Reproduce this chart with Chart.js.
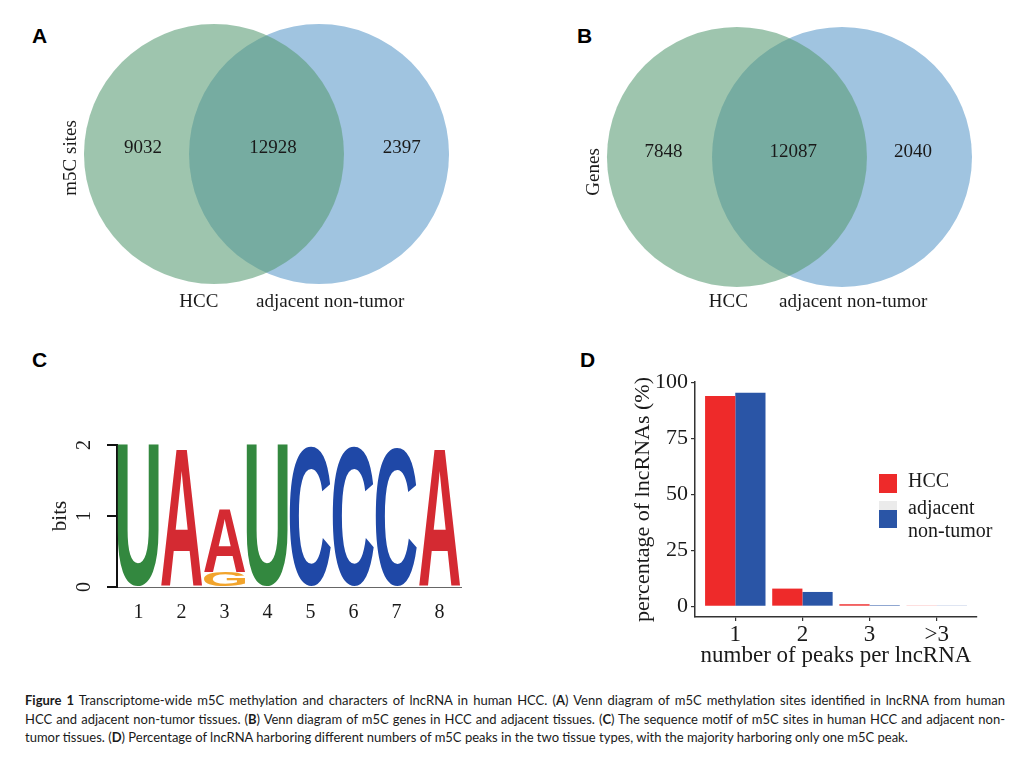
<!DOCTYPE html>
<html>
<head>
<meta charset="utf-8">
<title>Figure 1</title>
<script src="https://cdn.jsdelivr.net/npm/chart.js@4.4.1/dist/chart.umd.min.js"></script>
<style>
    body { margin: 0; background: #fff; width: 1031px; height: 769px; position: relative; overflow: hidden; }
    .panel { position: absolute; }
    .tag { position: absolute; font: bold 21px "Liberation Sans", Arial, sans-serif; line-height: 21px; color: #000; }
    #caption { position: absolute; left: 25px; top: 691px; width: 980px; font-family: Lato, sans-serif; font-size: 13px; line-height: 18.5px; color: #1a1a1a; }
    #caption .just { text-align: justify; text-align-last: justify; }
</style>
</head>
<body>

<div class="tag" style="left:32px;top:25px">A</div>
<div class="tag" style="left:577px;top:25px">B</div>
<div class="tag" style="left:32px;top:349px">C</div>
<div class="tag" style="left:580px;top:349px">D</div>

<div class="panel" style="left:0;top:0;width:520px;height:330px"><canvas id="vennSites"></canvas></div>
<div class="panel" style="left:520px;top:0;width:511px;height:330px"><canvas id="vennGenes"></canvas></div>
<div class="panel" style="left:0;top:330px;width:520px;height:340px"><canvas id="motifLogo"></canvas></div>
<div class="panel" style="left:580px;top:330px;width:451px;height:340px"><canvas id="peaksChart"></canvas></div>

<div id="caption">
    <div class="just"><b>Figure 1</b> Transcriptome-wide m5C methylation and characters of lncRNA in human HCC. (<b>A</b>) Venn diagram of m5C methylation sites identified in lncRNA from human</div>
    <div class="just">HCC and adjacent non-tumor tissues. (<b>B</b>) Venn diagram of m5C genes in HCC and adjacent tissues. (<b>C</b>) The sequence motif of m5C sites in human HCC and adjacent non-</div>
    <div>tumor tissues. (<b>D</b>) Percentage of lncRNA harboring different numbers of m5C peaks in the two tissue types, with the majority harboring only one m5C peak.</div>
</div>

<script>
// ---- data ----
const setNames = ["HCC", "adjacent non-tumor"];
const siteCounts = [9032, 12928, 2397];   // HCC only, both, adjacent only
const geneCounts = [7848, 12087, 2040];

const logoPositions = ["1", "2", "3", "4", "5", "6", "7", "8"];
const bitsG = [0, 0, 0.21, 0, 0, 0, 0, 0];
const bitsU = [2.0, 0, 0, 2.0, 0, 0, 0, 0];
const bitsC = [0, 0, 0, 0, 1.98, 1.98, 1.97, 0];
const bitsA = [0, 1.95, 0.90, 0, 0, 0, 0, 1.95];
const bitsTicks = [0, 1, 2];

const peakBins = ["1", "2", "3", ">3"];
const hccPct = [94.0, 7.9, 0.9, 0.2];
const adjacentPct = [95.5, 6.4, 0.5, 0.2];
const pctTicks = [0, 25, 50, 75, 100];

const SERIF = '"Liberation Serif", "Times New Roman", serif';
const TEXT = "#1a1a1a";

Chart.defaults.animation = false;
Chart.defaults.responsive = true;
Chart.defaults.maintainAspectRatio = false;
Chart.defaults.events = [];
Chart.defaults.plugins.legend.display = false;
Chart.defaults.plugins.tooltip.enabled = false;

// ---- Venn diagrams (A, B) ----
// one unit = circle radius, both circles the same size
function radiusPx(ctx) {
    const s = ctx.chart.scales.x;
    if (!s) return 0;
    const r = Math.abs(s.getPixelForValue(1) - s.getPixelForValue(0));
    return isFinite(r) ? r : 0;
}

function createVennChart(canvasId, counts, yLabel, layout) {
    const vennText = {
        id: "vennText",
        afterDatasetsDraw(chart) {
            const { ctx, scales: { x, y } } = chart;
            ctx.save();
            ctx.fillStyle = TEXT;
            ctx.textAlign = "center";
            ctx.textBaseline = "middle";
            ctx.font = "19px " + SERIF;
            counts.forEach((c, i) => {
                ctx.fillText(String(c), x.getPixelForValue(layout.countX[i]), y.getPixelForValue(layout.countY));
            });
            setNames.forEach((name, i) => {
                ctx.fillText(name, x.getPixelForValue(layout.nameX[i]), y.getPixelForValue(layout.nameY));
            });
            ctx.translate(x.getPixelForValue(layout.labelX), y.getPixelForValue(layout.labelY));
            ctx.rotate(-Math.PI / 2);
            ctx.fillText(yLabel, 0, 0);
            ctx.restore();
        }
    };

    new Chart(document.getElementById(canvasId), {
        type: "scatter",
        data: {
            datasets: [
                // dataset 0 is drawn last -> sits on top, semi transparent
                {
                    label: setNames[0], data: [{ x: -layout.half, y: 0 }],
                    pointRadius: radiusPx, pointHoverRadius: radiusPx,
                    pointBackgroundColor: "rgba(88,155,115,0.58)", pointBorderWidth: 0
                },
                {
                    label: setNames[1], data: [{ x: layout.half, y: 0 }],
                    pointRadius: radiusPx, pointHoverRadius: radiusPx,
                    pointBackgroundColor: "#a0c4e0", pointBorderWidth: 0
                }
            ]
        },
        options: {
            scales: {
                x: { type: "linear", display: false, min: layout.xMin, max: layout.xMax },
                y: { type: "linear", display: false, min: layout.yMin, max: layout.yMax }
            }
        },
        plugins: [vennText]
    });
}

createVennChart("vennSites", siteCounts, "m5C sites", {
    half: 0.404, xMin: -2.05, xMax: 1.95, yMin: -1.354, yMax: 1.185,
    countX: [-0.95, 0.05, 1.04], countY: 0.046,
    nameX: [-0.52, 0.49], nameY: -1.14,
    labelX: -1.5, labelY: -0.03
});

createVennChart("vennGenes", geneCounts, "Genes", {
    half: 0.404, xMin: -2.073, xMax: 1.858, yMin: -1.331, yMax: 1.208,
    countX: [-0.97, 0.03, 0.95], countY: 0.04,
    nameX: [-0.47, 0.49], nameY: -1.115,
    labelX: -1.5, labelY: -0.115
});

// ---- sequence logo (C) ----
const letterColors = { A: "#d42a32", C: "#1f48a7", G: "#f2a42c", U: "#33883f" };

// stretch each letter glyph into its stacked bar box
const logoLetters = {
    id: "logoLetters",
    afterDatasetsDraw(chart) {
        const ctx = chart.ctx;
        ctx.save();
        ctx.font = 'bold 100px "Liberation Sans", Arial, sans-serif';
        ctx.textAlign = "left";
        ctx.textBaseline = "alphabetic";
        chart.data.datasets.forEach((ds, di) => {
            const meta = chart.getDatasetMeta(di);
            const m = ctx.measureText(ds.label);
            const inkW = m.actualBoundingBoxLeft + m.actualBoundingBoxRight;
            const inkH = m.actualBoundingBoxAscent + m.actualBoundingBoxDescent;
            meta.data.forEach((bar, i) => {
                if (!ds.data[i]) return;
                const w = bar.width;
                const h = Math.abs(bar.base - bar.y);
                ctx.save();
                ctx.translate(bar.x - w / 2, Math.min(bar.y, bar.base));
                ctx.scale(w / inkW, h / inkH);
                ctx.fillStyle = letterColors[ds.label];
                ctx.fillText(ds.label, m.actualBoundingBoxLeft, m.actualBoundingBoxAscent);
                ctx.restore();
            });
        });
        ctx.restore();
    }
};

// y tick labels of the logo are written sideways
const logoYTicks = {
    id: "logoYTicks",
    afterDraw(chart) {
        const { ctx, scales: { y } } = chart;
        ctx.save();
        ctx.fillStyle = TEXT;
        ctx.font = "20px " + SERIF;
        ctx.textAlign = "center";
        ctx.textBaseline = "middle";
        y.ticks.forEach(t => {
            ctx.save();
            ctx.translate(85, y.getPixelForValue(t.value));
            ctx.rotate(-Math.PI / 2);
            ctx.fillText(String(t.value), 0, 0);
            ctx.restore();
        });
        ctx.restore();
    }
};

function makeLetterSet(letter, values) {
    return { label: letter, data: values, backgroundColor: "rgba(0,0,0,0)", borderWidth: 0, categoryPercentage: 1, barPercentage: 0.96 };
}

new Chart(document.getElementById("motifLogo"), {
    type: "bar",
    data: {
        labels: logoPositions,
        datasets: [makeLetterSet("G", bitsG), makeLetterSet("U", bitsU), makeLetterSet("C", bitsC), makeLetterSet("A", bitsA)]
    },
    options: {
        layout: { padding: { left: 0, top: 115, right: 59, bottom: 33 } },
        scales: {
            x: {
                stacked: true,
                grid: { display: false, drawTicks: false },
                border: { display: true, color: "#666", width: 1 },
                ticks: { color: TEXT, font: { family: SERIF, size: 20 }, padding: 14 },
                afterFit: (s) => { s.height = 50; }
            },
            y: {
                stacked: true, min: 0, max: 2,
                afterBuildTicks: (s) => { s.ticks = bitsTicks.map(v => ({ value: v })); },
                grid: { drawOnChartArea: false, drawTicks: true, tickLength: 10, color: "#111", lineWidth: 2 },
                border: { display: true, color: "#111", width: 2 },
                ticks: { display: false },
                title: { display: true, text: "bits", color: TEXT, font: { family: SERIF, size: 21 }, padding: { top: 48, bottom: 0 } },
                afterFit: (s) => { s.width = 117; }
            }
        }
    },
    plugins: [logoLetters, logoYTicks]
});

// ---- peaks per lncRNA (D) ----
const peaksLegend = {
    id: "peaksLegend",
    afterDraw(chart) {
        const ctx = chart.ctx;
        const ds = chart.data.datasets;
        ctx.save();
        ctx.fillStyle = ds[0].backgroundColor;
        ctx.fillRect(299, 144, 18, 19);
        ctx.fillStyle = "#ebebeb";
        ctx.fillRect(299, 171, 18, 9);
        ctx.fillStyle = ds[1].backgroundColor;
        ctx.fillRect(299, 180, 18, 18);
        ctx.fillStyle = TEXT;
        ctx.font = "20px " + SERIF;
        ctx.textAlign = "left";
        ctx.textBaseline = "middle";
        ctx.fillText(ds[0].label, 328, 152);
        const parts = ds[1].label.split(" ");
        ctx.fillText(parts[0], 328, 179);
        ctx.fillText(parts[1], 328, 202);
        ctx.restore();
    }
};

new Chart(document.getElementById("peaksChart"), {
    type: "bar",
    data: {
        datasets: [
            {
                label: setNames[0], data: hccPct.map((v, i) => ({ x: i + 1, y: v })),
                backgroundColor: "#ee2a2a", borderWidth: 0, categoryPercentage: 0.9, barPercentage: 1
            },
            {
                label: setNames[1], data: adjacentPct.map((v, i) => ({ x: i + 1, y: v })),
                backgroundColor: "#2a55a6", borderWidth: 0, categoryPercentage: 0.9, barPercentage: 1
            }
        ]
    },
    options: {
        layout: { padding: { left: 0, top: 52, right: 54, bottom: 0 } },
        scales: {
            x: {
                type: "linear", min: 0.4, max: 4.6, offset: false,
                afterBuildTicks: (s) => { s.ticks = peakBins.map((b, i) => ({ value: i + 1 })); },
                grid: { offset: false, drawOnChartArea: false, drawTicks: true, tickLength: 4, color: "#333", lineWidth: 1.2 },
                border: { display: true, color: "#333", width: 1.5 },
                ticks: { autoSkip: false, maxRotation: 0, color: TEXT, font: { family: SERIF, size: 23 }, padding: 0, callback: (v) => peakBins[v - 1] },
                title: { display: true, text: "number of peaks per lncRNA", color: TEXT, font: { family: SERIF, size: 23 }, padding: { top: 3, bottom: 0 } },
                afterFit: (s) => { s.height = 53; }
            },
            y: {
                min: -4.8, max: 100.3,
                afterBuildTicks: (s) => { s.ticks = pctTicks.map(v => ({ value: v })); },
                grid: { drawOnChartArea: false, drawTicks: true, tickLength: 4, color: "#333", lineWidth: 1.2 },
                border: { display: true, color: "#333", width: 1.5 },
                ticks: { color: TEXT, font: { family: SERIF, size: 22 }, padding: 3 },
                title: { display: true, text: "percentage of lncRNAs (%)", color: TEXT, font: { family: SERIF, size: 22 }, padding: { top: 50, bottom: 0 } },
                afterFit: (s) => { s.width = 115; }
            }
        }
    },
    plugins: [peaksLegend]
});
</script>
</body>
</html>
